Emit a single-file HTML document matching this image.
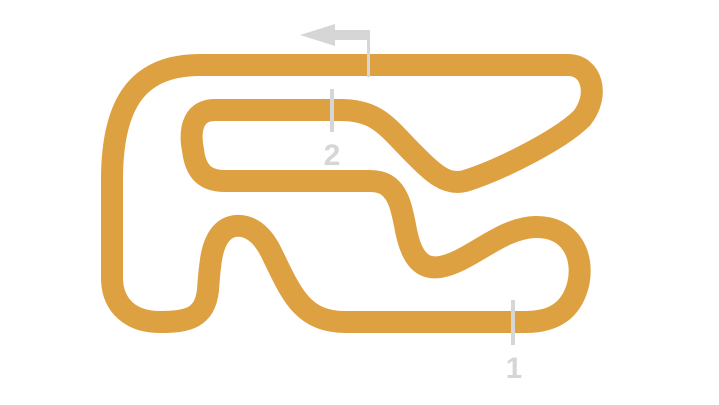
<!DOCTYPE html>
<html><head><meta charset="utf-8"><style>html,body{margin:0;padding:0;background:#fff;width:719px;height:405px;overflow:hidden}</style></head>
<body>
<svg width="719" height="405" viewBox="0 0 719 405" xmlns="http://www.w3.org/2000/svg">
<path d="M200 65 L568 65 C592 65 600 95 582 118 C560 140 500 170 465 181 C445 186 432 172 410 150 C385 124 375 110 340 110 L215 110 C190 110 190 135 193 150 C196 176 210 181 225 181 L370 181 C395 181 400 200 405 225 C410 255 420 270 440 267 C470 262 500 228 535 227 C570 226 585 255 578 285 C570 315 548 322 525 322 L345 322 C300 322 290 290 270 250 C255 222 235 223 225 230 C212 240 210 260 208 290 C205 318 188 322 160 322 C130 322 113 305 112 280 L112 180 C112 100 140 65 200 65 Z" fill="none" stroke="#dea142" stroke-width="22" stroke-linejoin="round"/>
<line x1="513" y1="300" x2="513" y2="345" stroke="#d6d6d6" stroke-width="4"/>
<text x="514" y="378" font-family="Liberation Sans, sans-serif" font-size="30" font-weight="bold" fill="#d6d6d6" text-anchor="middle">1</text>
<line x1="332" y1="89" x2="332" y2="132" stroke="#d6d6d6" stroke-width="4"/>
<text x="332" y="165" font-family="Liberation Sans, sans-serif" font-size="30" font-weight="bold" fill="#d6d6d6" text-anchor="middle">2</text>
<path d="M368.5 77 L368.5 35 L330 35" fill="none" stroke="#d6d6d6" stroke-width="3"/>
<rect x="330" y="30" width="40" height="10" fill="#d6d6d6"/>
<polygon points="300,35 335,24 335,46" fill="#d6d6d6"/>
</svg>
</body></html>
